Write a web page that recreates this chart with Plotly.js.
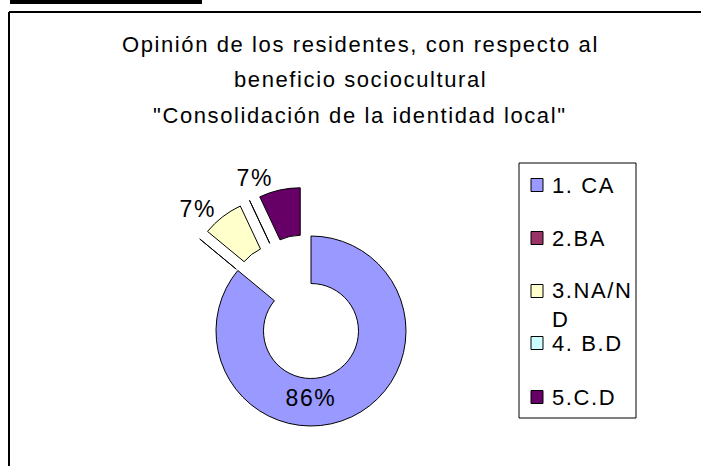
<!DOCTYPE html>
<html>
<head>
<meta charset="utf-8">
<script src="https://cdn.plot.ly/plotly-3.0.1.min.js"></script>
<style>
  html, body { margin: 0; padding: 0; overflow: hidden; background: #fff; width: 701px; height: 466px; }
  #chart { width: 701px; height: 490px; }
  svg text { letter-spacing: 1.6px; }
</style>
</head>
<body>
<div id="chart"></div>
<script>
// ---- data ----
const categories = ['1. CA', '2.BA', '3.NA/ND', '4. B.D', '5.C.D'];
const legendLabels = ['1. CA', '2.BA', '3.NA/N<br>D', '4. B.D', '5.C.D'];
const values = [86, 0, 7, 0, 7];
const colors = ['#9999FF', '#993366', '#FFFFCC', '#CCFFFF', '#660066'];
const titleLines = [
  'Opinión de los residentes, con respecto al',
  'beneficio sociocultural',
  '"Consolidación de la identidad local"'
];

// ---- layout helpers (pixel -> paper) ----
// the chart continues below the 466 px window, as in the reference
const W = 701, H = 490;
const px = x => x / W;
const py = y => 1 - y / H;

const FONT = 'Liberation Sans, Arial, sans-serif';

// pie geometry
const cx = 311, cy = 331, r = 95, maxPull = 0.52;
const half = r * (1 + maxPull);
const domain = {
  x: [px(cx - half), px(cx + half)],
  y: [py(cy + half), py(cy - half)]
};

const pie = {
  type: 'pie',
  labels: categories,
  values: values,
  sort: false,
  direction: 'clockwise',
  rotation: 0,
  hole: 0.5,
  pull: [0, maxPull, maxPull, maxPull, maxPull],
  domain: domain,
  marker: { colors: colors, line: { color: '#000', width: 1 } },
  texttemplate: values.map(v => v > 0 ? '%{percent:.0%}' : ''),
  textposition: values.map((v, i) => v <= 0 ? 'none' : (i === 0 ? 'inside' : 'outside')),
  insidetextorientation: 'horizontal',
  textfont: { family: FONT, size: 23, color: '#000' },
  outsidetextfont: { family: FONT, size: 23, color: '#000' },
  hoverinfo: 'label+percent',
  showlegend: false
};

// ---- title lines as annotations ----
const titleY = [45, 80, 115];
const annotations = titleLines.map((t, i) => ({
  text: t, xref: 'paper', yref: 'paper',
  x: px(360), y: py(titleY[i]), xanchor: 'center', yanchor: 'middle',
  showarrow: false, font: { family: FONT, size: 22, color: '#000' }
}));

// ---- legend (box, swatches, texts) ----
const legendY = [185, 238, 291, 343, 397];
const lineH = 28;
const shapes = [
  // black bar top-left
  { type: 'rect', xref: 'paper', yref: 'paper', x0: px(10), x1: px(202), y0: py(0), y1: py(4),
    fillcolor: '#000', line: { width: 0 } },
  // chart border (top and left)
  { type: 'line', xref: 'paper', yref: 'paper', x0: px(9), x1: px(701), y0: py(12), y1: py(12),
    line: { color: '#000', width: 2 } },
  { type: 'line', xref: 'paper', yref: 'paper', x0: px(9), x1: px(9), y0: py(12), y1: py(490),
    line: { color: '#000', width: 2 } },
  // legend box
  { type: 'rect', xref: 'paper', yref: 'paper', x0: px(519), x1: px(636), y0: py(163), y1: py(418),
    fillcolor: 'rgba(0,0,0,0)', line: { color: '#000', width: 1 } }
];
legendLabels.forEach((lab, i) => {
  const yc = legendY[i];
  shapes.push({ type: 'rect', xref: 'paper', yref: 'paper',
    x0: px(531), x1: px(543), y0: py(yc - 6.5), y1: py(yc + 6.5),
    fillcolor: colors[i], line: { color: '#000', width: 1 } });
  const n = lab.split('<br>').length;
  annotations.push({
    text: lab, xref: 'paper', yref: 'paper',
    x: px(550), y: py(yc + (n - 1) * lineH / 2), xanchor: 'left', yanchor: 'middle', align: 'left',
    showarrow: false, font: { family: FONT, size: 22, color: '#000' }
  });
});

const layout = {
  width: W, height: H,
  margin: { l: 0, r: 0, t: 0, b: 0 },
  paper_bgcolor: '#fff',
  showlegend: false,
  shapes: shapes,
  annotations: annotations,
  font: { family: FONT }
};

Plotly.newPlot('chart', [pie], layout, { displayModeBar: false });
</script>
</body>
</html>
